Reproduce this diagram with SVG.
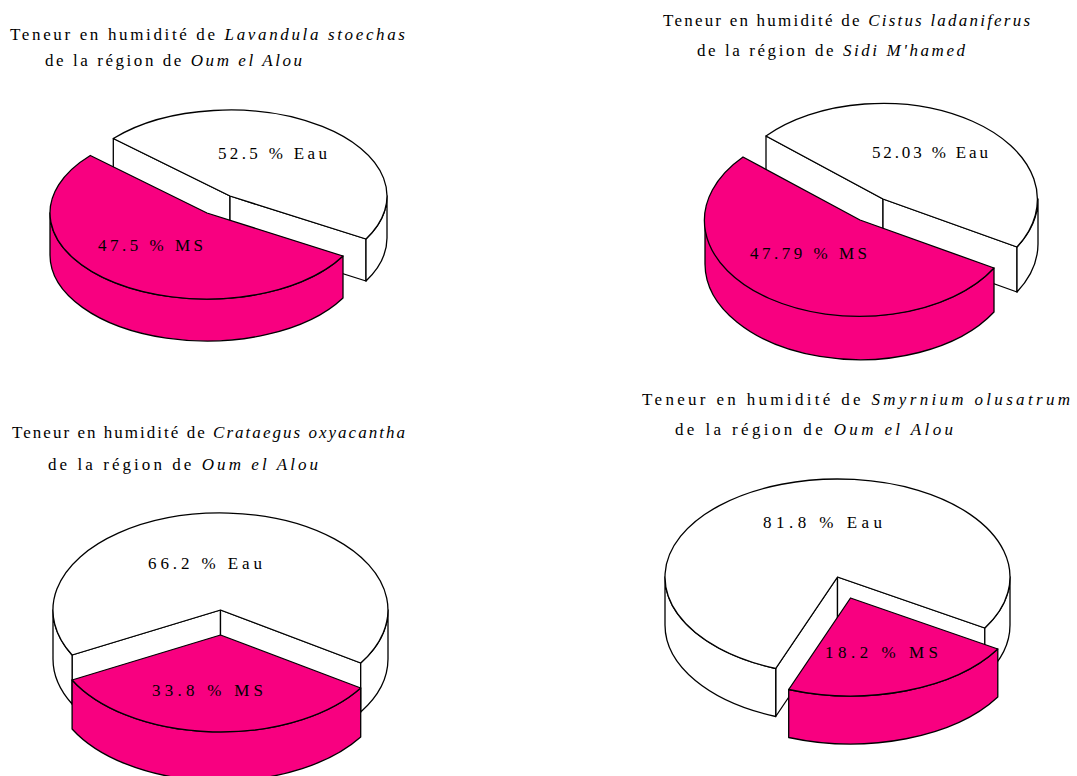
<svg xmlns="http://www.w3.org/2000/svg" width="1077" height="776" viewBox="0 0 1077 776">
<style>
.t{font-family:"Liberation Serif","Times New Roman",serif;font-size:17px;fill:#000}
.i{font-style:italic}
.w{fill:#fff;stroke:#000;stroke-width:1.3;stroke-linejoin:round}
.p{fill:#F80080;stroke:#000;stroke-width:1.3;stroke-linejoin:round}
.l{font-family:"Liberation Serif","Times New Roman",serif;font-size:17px;fill:#000}
</style>
<rect width="1077" height="776" fill="#fff"/>

<g id="pie-lavandula">
  <text class="t" x="10" y="40" textLength="395" lengthAdjust="spacing">Teneur en humidité de <tspan class="i">Lavandula stoechas</tspan></text>
  <text class="t" x="45" y="66" textLength="257" lengthAdjust="spacing">de la région de <tspan class="i">Oum el Alou</tspan></text>
  <path class="w" d="M230,196 L113.3,138.5 L113.3,180.5 L230,238 Z"/>
  <path class="w" d="M230,196 L366,239 L366,281 L230,238 Z"/>
  <path class="w" d="M366,239 A157,86 0 0 0 387,196 L387,238 A157,86 0 0 1 366,281 Z"/>
  <path class="w" d="M230,196 L113.3,138.5 A157,86 0 0 1 366,239 Z"/>
  <path class="p" d="M343,256 A157,86 0 0 1 50,213 L50,255 A157,86 0 0 0 343,298 Z"/>
  <path class="p" d="M207,213 L343,256 A157,86 0 1 1 90.3,155.5 Z"/>
  <text class="l" x="218" y="159" textLength="109" lengthAdjust="spacing">52.5 % Eau</text>
  <text class="l" x="98" y="251" textLength="105" lengthAdjust="spacing">47.5 % MS</text>
</g>

<g id="pie-cistus">
  <text class="t" x="663" y="26" textLength="367" lengthAdjust="spacing">Teneur en humidité de <tspan class="i">Cistus ladaniferus</tspan></text>
  <text class="t" x="697" y="56" textLength="268" lengthAdjust="spacing">de la région de <tspan class="i">Sidi M'hamed</tspan></text>
  <path class="w" d="M883,199 L766,136 L766,181 L883,244 Z"/>
  <path class="w" d="M883,199 L1017,247 L1017,292 L883,244 Z"/>
  <path class="w" d="M1017,247 A155,96 0 0 0 1038,199 L1038,244 A155,96 0 0 1 1017,292 Z"/>
  <path class="w" d="M883,199 L766,136 A155,96 0 0 1 1017,247 Z"/>
  <path class="p" d="M994,268 A155,96 0 0 1 705,220 L705,264 A155,96 0 0 0 994,312 Z"/>
  <path class="p" d="M860,220 L994,268 A155,96 0 1 1 743,157 Z"/>
  <text class="l" x="872" y="158" textLength="116" lengthAdjust="spacing">52.03 % Eau</text>
  <text class="l" x="750" y="259" textLength="117" lengthAdjust="spacing">47.79 % MS</text>
</g>

<g id="pie-crataegus">
  <text class="t" x="12" y="438" textLength="393" lengthAdjust="spacing">Teneur en humidité de <tspan class="i">Crataegus oxyacantha</tspan></text>
  <text class="t" x="48" y="470" textLength="270" lengthAdjust="spacing">de la région de <tspan class="i">Oum el Alou</tspan></text>
  <path class="w" d="M220.5,610 L72.1,655 L72.1,704 L220.5,659 Z"/>
  <path class="w" d="M220.5,610 L360.7,663 L360.7,712 L220.5,659 Z"/>
  <path class="w" d="M72.1,655 A167.5,97 0 0 1 53,610 L53,659 A167.5,97 0 0 0 72.1,704 Z"/>
  <path class="w" d="M388,610 A167.5,97 0 0 1 360.7,663 L360.7,712 A167.5,97 0 0 0 388,659 Z"/>
  <path class="w" d="M220.5,610 L360.7,663 A167.5,97 0 1 0 72.1,655 Z"/>
  <path class="p" d="M360.7,688 A167.5,97 0 0 1 72.1,680 L72.1,729 A167.5,97 0 0 0 360.7,737 Z"/>
  <path class="p" d="M220.5,635 L360.7,688 A167.5,97 0 0 1 72.1,680 Z"/>
  <text class="l" x="148" y="569" textLength="114" lengthAdjust="spacing">66.2 % Eau</text>
  <text class="l" x="152" y="696" textLength="111" lengthAdjust="spacing">33.8 % MS</text>
</g>

<g id="pie-smyrnium">
  <text class="t" x="642" y="405" textLength="428" lengthAdjust="spacing">Teneur en humidité de <tspan class="i">Smyrnium olusatrum</tspan></text>
  <text class="t" x="675" y="435" textLength="278" lengthAdjust="spacing">de la région de <tspan class="i">Oum el Alou</tspan></text>
  <path class="w" d="M837.5,577 L775.7,668.5 L775.7,716.5 L837.5,625 Z"/>
  <path class="w" d="M837.5,577 L984.8,628 L984.8,676 L837.5,625 Z"/>
  <path class="w" d="M775.7,668.5 A172.5,98 0 0 1 665,577 L665,625 A172.5,98 0 0 0 775.7,716.5 Z"/>
  <path class="w" d="M1010,577 A172.5,98 0 0 1 984.8,628 L984.8,676 A172.5,98 0 0 0 1010,625 Z"/>
  <path class="w" d="M837.5,577 L984.8,628 A172.5,98 0 1 0 775.7,668.5 Z"/>
  <path class="p" d="M997.8,649 A172.5,98 0 0 1 788.7,689.5 L788.7,737.5 A172.5,98 0 0 0 997.8,697 Z"/>
  <path class="p" d="M850.5,598 L997.8,649 A172.5,98 0 0 1 788.7,689.5 Z"/>
  <text class="l" x="763" y="528" textLength="119" lengthAdjust="spacing">81.8 % Eau</text>
  <text class="l" x="825" y="658" textLength="113" lengthAdjust="spacing">18.2 % MS</text>
</g>

<g id="connectors"/>
</svg>
